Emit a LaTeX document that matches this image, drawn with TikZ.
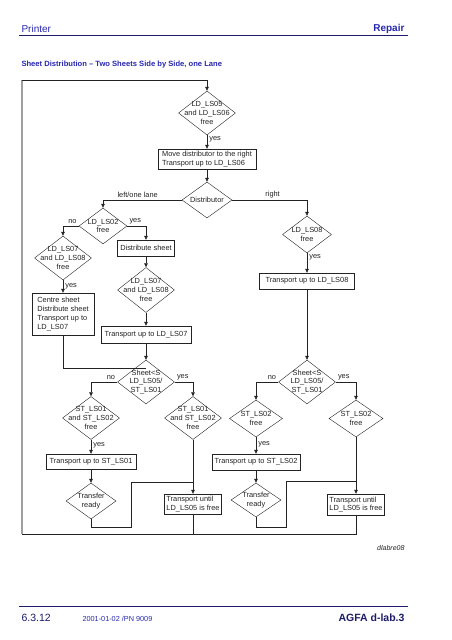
\documentclass[tikz,border=0pt]{standalone}
\usepackage{fontspec}
\setmainfont{Liberation Sans}
\usetikzlibrary{shapes.geometric,arrows.meta}
\definecolor{agfablau}{RGB}{40,40,175}
\definecolor{agfanavy}{RGB}{28,28,105}
\definecolor{strich}{RGB}{35,35,35}

\begin{document}
\begin{tikzpicture}[x=1pt,y=-1pt,
    every node/.style={font=\fontsize{7.4}{8.7}\selectfont,text=strich},
    raute/.style 2 args={draw=strich,diamond,minimum width=#1pt,minimum height=#2pt,inner sep=0pt},
    rtext/.style={align=center,inner sep=0pt},
    kasten/.style 2 args={draw=strich,rectangle,minimum width=#1pt,minimum height=#2pt,inner sep=2pt,align=left},
    linie/.style={draw=strich,line width=0.6pt},
    pfeil/.style={linie,-{Triangle[length=4pt,width=3.6pt]}},
    rahmen/.style={draw=gray!75,line width=1.4pt},
    lbl/.style={inner sep=2pt}]
        \useasboundingbox[fill=white] (0,0) rectangle (452,640);
        %\draw[step=20,gray!30] (0,0) grid (452,640);

        % Kopfzeile
        \node[anchor=west,font=\fontsize{10}{12}\selectfont,text=agfablau] (kopf) at (18,28.5) {Printer};
        \node[anchor=east,font=\fontsize{10}{12}\selectfont\bfseries,text=agfablau] (rubrik) at (408,28.5) {Repair};
        \draw[agfanavy,line width=1pt] (19,35) -- (408,35);
        \node[anchor=west,font=\fontsize{7.6}{9}\selectfont\bfseries,text=agfablau] (titel) at (18,65) {Sheet Distribution – Two Sheets Side by Side, one Lane};

        % Ablauf oben
        \node[raute={57}{44},label={[rtext]center:LD\_LS05\\and LD\_LS06\\free}] (d1) at (207,113) {};
        \node[kasten={98}{20}] (b1) at (207,159) {Move distributor to the right\\Transport up to LD\_LS06};
        \node[raute={50}{36},label={[rtext]center:Distributor}] (dist) at (207,200) {};

        % linker Zweig
        \node[raute={48}{36},label={[rtext]center:LD\_LS02\\free}] (d2) at (103,226) {};
        \node[raute={57}{44},label={[rtext]center:LD\_LS07\\and LD\_LS08\\free}] (d3) at (63,258) {};
        \node[kasten={62}{42}] (b2) at (63,314) {Centre sheet\\Distribute sheet\\Transport up to\\LD\_LS07};
        \node[kasten={57}{16}] (b3) at (146,248) {Distribute sheet};
        \node[raute={57}{45},label={[rtext]center:LD\_LS07\\and LD\_LS08\\free}] (d4) at (146,290) {};
        \node[kasten={90}{17}] (b4) at (146,334.5) {Transport up to LD\_LS07};
        \coordinate (j1) at (146,368);
        \node[raute={57}{44},label={[rtext]center:Sheet<S\\LD\_LS05/\\ST\_LS01}] (d5) at (146,382) {};
        \node[raute={57}{43},label={[rtext]center:ST\_LS01\\and ST\_LS02\\free}] (d6) at (91,418) {};
        \node[kasten={90}{15}] (b5) at (91,461.5) {Transport up to ST\_LS01};
        \node[raute={50}{36},label={[rtext]center:Transfer\\ready}] (d7) at (91,501) {};
        \node[raute={57}{43},label={[rtext]center:ST\_LS01\\and ST\_LS02\\free}] (d8) at (193,418) {};
        \node[kasten={56}{20}] (b6) at (193,504) {Transport until\\LD\_LS05 is free};
        \coordinate (t1) at (131,527);
        \coordinate (t2) at (193,482);

        % rechter Zweig
        \node[raute={49}{37},label={[rtext]center:LD\_LS08\\free}] (d9) at (307,234.5) {};
        \node[kasten={95}{16}] (b7) at (307,281) {Transport up to LD\_LS08};
        \node[raute={57}{44},label={[rtext]center:Sheet<S\\LD\_LS05/\\ST\_LS01}] (d10) at (307,382) {};
        \node[raute={53}{37},label={[rtext]center:ST\_LS02\\free}] (d11) at (256,418.5) {};
        \node[kasten={88}{16}] (b8) at (256,462) {Transport up to ST\_LS02};
        \node[raute={50}{34},label={[rtext]center:Transfer\\ready}] (d12) at (256,500) {};
        \node[raute={54}{37},label={[rtext]center:ST\_LS02\\free}] (d13) at (356,418.5) {};
        \node[kasten={57}{21}] (b9) at (356,504.5) {Transport until\\LD\_LS05 is free};
        \coordinate (t3) at (286,527);
        \coordinate (t4) at (356,481);

        % Rücklauf
        \coordinate (ul) at (22,534);
        \coordinate (ol) at (22,80);
        \draw[linie] (b9.south) |- (ul);
        \draw[linie] (b6.south) -- (b6.south |- ul);
        \draw[rahmen] (ul) -- (ol);
        \draw[pfeil] (ol) -| (d1.north);

        % Verbindungen oben
        \draw[pfeil] (d1.south) -- node[lbl,right,pos=0.3] {yes} (b1.north);
        \draw[pfeil] (b1.south) -- (dist.north);
        \draw[pfeil] (dist.west) -| node[lbl,above,pos=0.28] {left/one lane} (d2.north);
        \draw[pfeil] (dist.east) -| node[lbl,above,pos=0.27] {right} (d9.north);

        % Verbindungen links
        \draw[pfeil] (d2.west) node[lbl,above left] {no} -| (d3.north);
        \draw[pfeil] (d2.east) node[lbl,above right] {yes} -| (b3.north);
        \draw[pfeil] (d3.south) -- node[lbl,right,pos=0.45] {yes} (b2.north);
        \draw[pfeil] (b3.south) -- (d4.north);
        \draw[pfeil] (d4.south) -- (b4.north);
        \draw[linie] (b2.south) |- (j1);
        \draw[pfeil] (b4.south) -- (d5.north);
        \draw[pfeil] (d5.west) node[lbl,above left] {no} -| (d6.north);
        \draw[pfeil] (d5.east) node[lbl,above right] {yes} -| (d8.north);
        \draw[pfeil] (d6.south) -- node[lbl,right,pos=0.4] {yes} (b5.north);
        \draw[pfeil] (b5.south) -- (d7.north);
        \draw[pfeil] (d8.south) -- (b6.north);
        \draw[linie] (d7.south) |- (t1) |- (t2);

        % Verbindungen rechts
        \draw[pfeil] (d9.south) -- node[lbl,right,pos=0.2] {yes} (b7.north);
        \draw[pfeil] (b7.south) -- (d10.north);
        \draw[pfeil] (d10.west) node[lbl,above left] {no} -| (d11.north);
        \draw[pfeil] (d10.east) node[lbl,above right] {yes} -| (d13.north);
        \draw[pfeil] (d11.south) -- node[lbl,right,pos=0.45] {yes} (b8.north);
        \draw[pfeil] (b8.south) -- (d12.north);
        \draw[pfeil] (d13.south) -- (b9.north);
        \draw[linie] (d12.south) |- (t3) |- (t4);

        % Fusszeile
        \node[anchor=east,font=\fontsize{7}{8}\selectfont\itshape] (kennung) at (408,548) {dlabre08};
        \draw[agfanavy,line width=1pt] (19,606) -- (408,606);
        \node[anchor=west,font=\fontsize{10.5}{12}\selectfont,text=agfanavy] (seite) at (18,618) {6.3.12};
        \node[anchor=west,font=\fontsize{7.3}{9}\selectfont,text=agfablau] (datum) at (79,619) {2001-01-02 /PN 9009};
        \node[anchor=east,font=\fontsize{10.5}{12}\selectfont\bfseries,text=agfanavy] (marke) at (408,618) {AGFA d-lab.3};
    \end{tikzpicture}
\end{document}
